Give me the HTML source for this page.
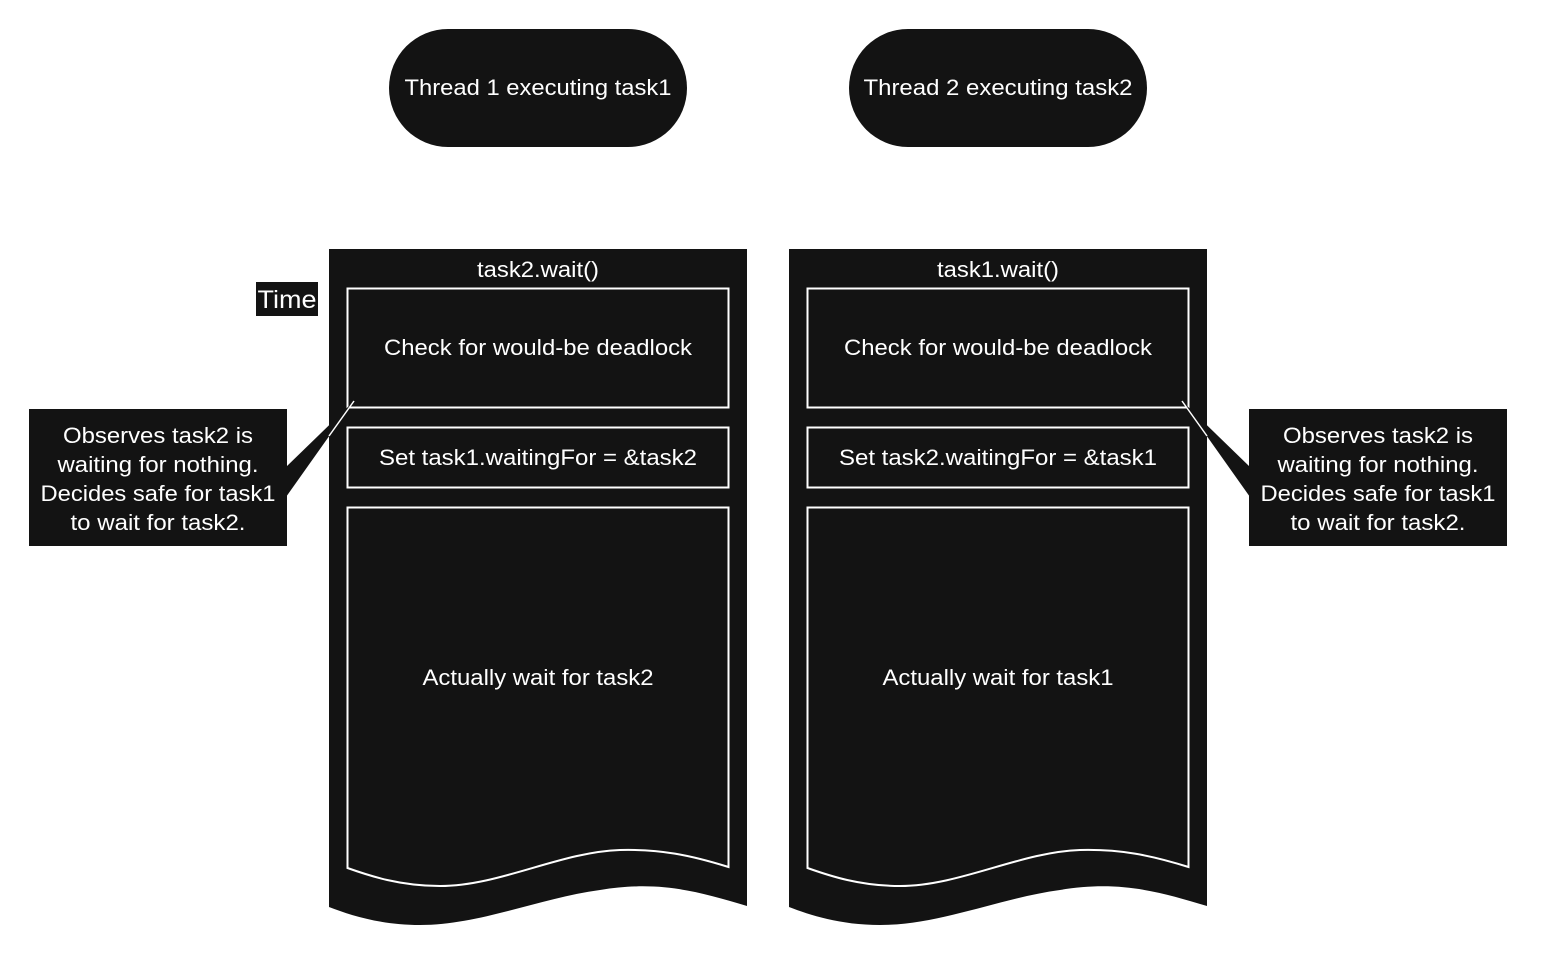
<!DOCTYPE html>
<html><head><style>body{margin:0;background:#fff}</style></head><body>
<svg width="1546" height="950" xmlns="http://www.w3.org/2000/svg" font-family="Liberation Sans, Arial, sans-serif" fill="#fff">
<rect width="1546" height="950" fill="#fff"/>
<rect x="389" y="29" width="298" height="118" rx="59" fill="#131313"/>
<text x="538" y="95" font-size="22" text-anchor="middle" textLength="267" lengthAdjust="spacingAndGlyphs">Thread 1 executing task1</text>
<rect x="849" y="29" width="298" height="118" rx="59" fill="#131313"/>
<text x="998" y="95" font-size="22" text-anchor="middle" textLength="269" lengthAdjust="spacingAndGlyphs">Thread 2 executing task2</text>
<rect x="256" y="282" width="62" height="34" fill="#131313"/>
<text x="287" y="308" font-size="25" text-anchor="middle" textLength="59" lengthAdjust="spacingAndGlyphs">Time</text>
<g id="col">
<path d="M329 249 H747 V906 C700 892 660 880 600 890 C540 898 480 925 420 925 C380 925 350 915 329 907 Z" fill="#131313"/>
<rect x="347.5" y="288.5" width="381" height="119" fill="none" stroke="#fff" stroke-width="2"/>
<rect x="347.5" y="427.5" width="381" height="60" fill="none" stroke="#fff" stroke-width="2"/>
<path d="M347.5 507.5 H728.5 V867 C690 855 660 849 620 850 C560 852 500 886 440 886 C400 886 370 876 347.5 868 Z" fill="none" stroke="#fff" stroke-width="2"/>
</g>
<use href="#col" x="460"/>
<g font-size="22" text-anchor="middle" lengthAdjust="spacingAndGlyphs">
<text x="538" y="277" textLength="122" lengthAdjust="spacingAndGlyphs">task2.wait()</text>
<text x="538" y="355" textLength="308" lengthAdjust="spacingAndGlyphs">Check for would-be deadlock</text>
<text x="538" y="465" textLength="318" lengthAdjust="spacingAndGlyphs">Set task1.waitingFor = &amp;task2</text>
<text x="538" y="685" textLength="231" lengthAdjust="spacingAndGlyphs">Actually wait for task2</text>
<text x="998" y="277" textLength="122" lengthAdjust="spacingAndGlyphs">task1.wait()</text>
<text x="998" y="355" textLength="308" lengthAdjust="spacingAndGlyphs">Check for would-be deadlock</text>
<text x="998" y="465" textLength="318" lengthAdjust="spacingAndGlyphs">Set task2.waitingFor = &amp;task1</text>
<text x="998" y="685" textLength="231" lengthAdjust="spacingAndGlyphs">Actually wait for task1</text>
</g>
<rect x="29" y="409" width="258" height="137" fill="#131313"/>
<polygon points="286,467 286,497 354,401" fill="#131313"/>
<line x1="329" y1="436" x2="354" y2="401" stroke="#fff" stroke-width="1.5"/>
<g font-size="22" text-anchor="middle">
<text x="158" y="443" textLength="190" lengthAdjust="spacingAndGlyphs">Observes task2 is</text>
<text x="158" y="472" textLength="201" lengthAdjust="spacingAndGlyphs">waiting for nothing.</text>
<text x="158" y="501" textLength="235" lengthAdjust="spacingAndGlyphs">Decides safe for task1</text>
<text x="158" y="530" textLength="175" lengthAdjust="spacingAndGlyphs">to wait for task2.</text>
</g>
<rect x="1249" y="409" width="258" height="137" fill="#131313"/>
<polygon points="1250,467 1250,497 1182,401" fill="#131313"/>
<line x1="1207" y1="436" x2="1182" y2="401" stroke="#fff" stroke-width="1.5"/>
<g font-size="22" text-anchor="middle">
<text x="1378" y="443" textLength="190" lengthAdjust="spacingAndGlyphs">Observes task2 is</text>
<text x="1378" y="472" textLength="201" lengthAdjust="spacingAndGlyphs">waiting for nothing.</text>
<text x="1378" y="501" textLength="235" lengthAdjust="spacingAndGlyphs">Decides safe for task1</text>
<text x="1378" y="530" textLength="175" lengthAdjust="spacingAndGlyphs">to wait for task2.</text>
</g>
</svg>
</body></html>
